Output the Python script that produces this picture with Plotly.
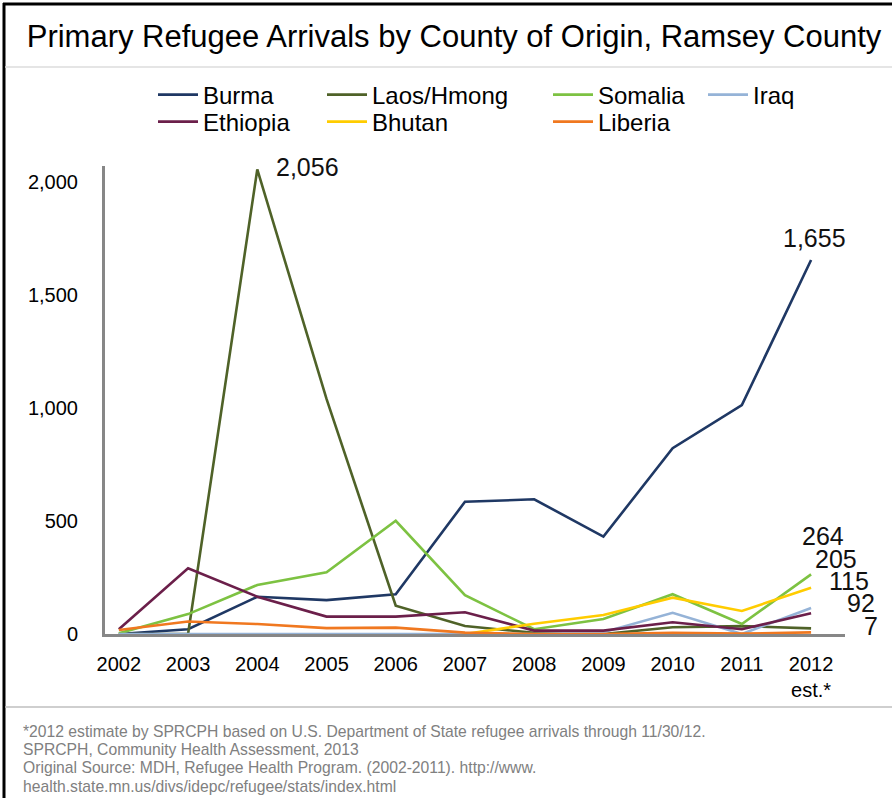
import plotly.graph_objects as go

# Refugee arrivals by country of origin, Ramsey County
years = ["2002", "2003", "2004", "2005", "2006", "2007", "2008", "2009", "2010", "2011", "2012"]
year_labels = ["2002", "2003", "2004", "2005", "2006", "2007", "2008", "2009", "2010", "2011", "2012<br>est.*"]

burma = [0, 21, 165, 150, 176, 585, 596, 431, 822, 1013, 1655]
laos_hmong = [0, 0, 2056, 1040, 125, 35, 5, 0, 30, 35, 25]
somalia = [3, 88, 217, 273, 501, 172, 21, 66, 176, 44, 264]
iraq = [0, 0, 0, 0, 0, 0, 0, 8, 94, 0, 115]
ethiopia = [21, 291, 165, 77, 77, 96, 15, 15, 52, 21, 92]
bhutan = [None, None, None, None, None, 0, 45, 84, 161, 102, 205]
liberia = [18, 55, 44, 26, 28, 6, 0, 0, 5, 2, 7]

footnote_lines = [
    "*2012 estimate by SPRCPH based on U.S. Department of State refugee arrivals through 11/30/12.",
    "SPRCPH, Community Health Assessment, 2013",
    "Original Source: MDH, Refugee Health Program. (2002-2011). http://www.",
    "health.state.mn.us/divs/idepc/refugee/stats/index.html",
]

W, H = 892, 798
FONT = "Liberation Sans"

def px(x):
    return x / W

def py(y):
    return 1 - y / H

# name, values, colour, legend id, legend x (px), legend row centre (px)
series = [
    ("Burma", burma, "#1F3864", "legend", 153, 95),
    ("Laos/Hmong", laos_hmong, "#4F6228", "legend2", 322, 95),
    ("Somalia", somalia, "#7DC242", "legend3", 548, 95),
    ("Iraq", iraq, "#95B3D7", "legend4", 703, 95),
    ("Ethiopia", ethiopia, "#6B1F4A", "legend5", 153, 122),
    ("Bhutan", bhutan, "#FFCC00", "legend6", 322, 122),
    ("Liberia", liberia, "#F07820", "legend7", 548, 122),
]

fig = go.Figure()
layout_legends = {}
for name, vals, color, leg, lx, ly in series:
    fig.add_trace(go.Scatter(
        x=years, y=vals, mode="lines", name=name,
        line=dict(color=color, width=2.6),
        legend=leg,
        hoverinfo="x+y+name",
    ))
    layout_legends[leg] = dict(
        orientation="v", xanchor="left", yanchor="middle",
        x=px(lx), y=py(ly),
        font=dict(family=FONT, size=24, color="#000000"),
        bgcolor="rgba(0,0,0,0)", borderwidth=0, itemwidth=40,
    )

# Value labels on selected points: (category index, value, anchor, dx, dy)
labels = [
    (2, laos_hmong[2], "left", 17, 2),
    (10, burma[10], "center", 3, 22),
    (10, somalia[10], "left", -11, 38),
    (10, bhutan[10], "left", 2, 29),
    (10, iraq[10], "left", 16, 27),
    (10, ethiopia[10], "left", 34, 10),
    (10, liberia[10], "left", 51, 6),
]
annotations = []
for xi, v, anchor, dx, dy in labels:
    annotations.append(dict(
        x=xi, y=v, xref="x", yref="y", text=f"{v:,}", showarrow=False,
        xanchor=anchor, yanchor="middle", xshift=dx, yshift=dy,
        font=dict(family=FONT, size=25, color="#111111"),
    ))

for i, line in enumerate(footnote_lines):
    annotations.append(dict(
        x=px(21), y=py(731 + 18.4 * i), xref="paper", yref="paper",
        xanchor="left", yanchor="middle", align="left", showarrow=False,
        text=line, font=dict(family=FONT, size=15.7, color="#808080"),
    ))

shapes = [
    # outer frame (left and top)
    dict(type="line", xref="paper", yref="paper", x0=px(4), x1=px(4), y0=0, y1=py(3),
         line=dict(color="#000000", width=3)),
    dict(type="line", xref="paper", yref="paper", x0=px(3), x1=1, y0=py(4), y1=py(4),
         line=dict(color="#000000", width=3)),
    # separator under the title
    dict(type="line", xref="paper", yref="paper", x0=px(5), x1=1, y0=py(67), y1=py(67),
         line=dict(color="#DDDDDD", width=1.5)),
    # separator above the footnote
    dict(type="line", xref="paper", yref="paper", x0=px(5), x1=1, y0=py(707), y1=py(707),
         line=dict(color="#BFBFBF", width=1.5)),
]

fig.update_layout(
    width=W, height=H, autosize=False,
    margin=dict(l=0, r=0, t=0, b=0, autoexpand=False),
    paper_bgcolor="#FFFFFF", plot_bgcolor="#FFFFFF",
    title=dict(
        text="Primary Refugee Arrivals by County of Origin, Ramsey County",
        x=px(454), xanchor="center", y=py(36), yanchor="middle",
        font=dict(family=FONT, size=31, color="#000000"),
    ),
    showlegend=True,
    annotations=annotations,
    shapes=shapes,
    **layout_legends,
)

fig.update_xaxes(
    type="category", domain=[px(105), px(845)], range=[-0.2, 10.49],
    tickmode="array", tickvals=years, ticktext=year_labels,
    showline=True, linecolor="#878787", linewidth=3,
    showgrid=False, zeroline=False, ticks="", automargin=False,
    tickfont=dict(family=FONT, size=20, color="#000000"),
    ticklabelstandoff=10,
)
fig.update_yaxes(
    domain=[py(634), py(166)], range=[0, 2071],
    tickvals=[0, 500, 1000, 1500, 2000], tickformat=",",
    showline=True, linecolor="#878787", linewidth=3,
    showgrid=False, zeroline=False, ticks="", automargin=False,
    tickfont=dict(family=FONT, size=20, color="#000000"),
    ticklabelstandoff=20,
)

fig.write_html("out.html")
